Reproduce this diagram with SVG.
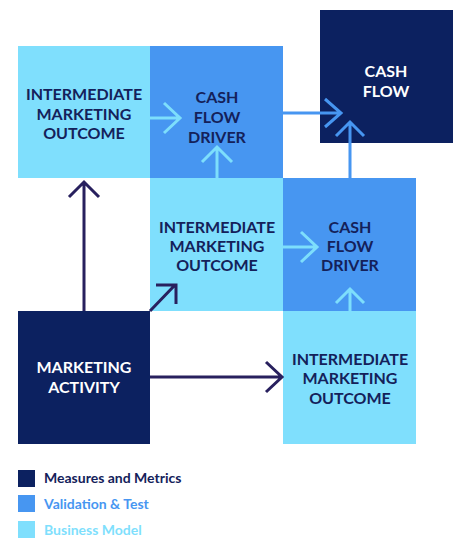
<svg xmlns="http://www.w3.org/2000/svg" width="454" height="538" viewBox="0 0 454 538">
<style>
.t{font-family:Lato,"Open Sans","DejaVu Sans",sans-serif;font-weight:700;font-size:16px;text-anchor:middle}
.dk{fill:#14215A}
.wh{fill:#ffffff}
.lg{font-family:Lato,"Open Sans","DejaVu Sans",sans-serif;font-weight:700;font-size:14px}
.la{fill:none;stroke:#7DDEFC;stroke-width:3}
.ma{fill:none;stroke:#4796F1;stroke-width:3}
.da{fill:none;stroke:#28205E;stroke-width:3}
</style>
<rect width="454" height="538" fill="#ffffff"/>
<g id="imo1"><rect x="18" y="46" width="132" height="132" fill="#7FDFFD"/>
<text class="t dk" x="84" y="100">INTERMEDIATE</text><text class="t dk" x="84" y="120">MARKETING</text><text class="t dk" x="84" y="139">OUTCOME</text></g>
<g id="cfd1"><rect x="150" y="46" width="133" height="132" fill="#4796F1"/>
<text class="t dk" x="217" y="103">CASH</text><text class="t dk" x="217" y="123">FLOW</text><text class="t dk" x="217" y="143">DRIVER</text></g>
<g id="cf"><rect x="320" y="10" width="133" height="133" fill="#0C2160"/>
<text class="t wh" x="386" y="77">CASH</text><text class="t wh" x="386" y="97">FLOW</text></g>
<g id="imo2"><rect x="150" y="178" width="133" height="133" fill="#7FDFFD"/>
<text class="t dk" x="217" y="233">INTERMEDIATE</text><text class="t dk" x="217" y="252">MARKETING</text><text class="t dk" x="217" y="271">OUTCOME</text></g>
<g id="cfd2"><rect x="283" y="178" width="133" height="133" fill="#4796F1"/>
<text class="t dk" x="350" y="233">CASH</text><text class="t dk" x="350" y="252">FLOW</text><text class="t dk" x="350" y="271">DRIVER</text></g>
<g id="ma"><rect x="18" y="311" width="132" height="133" fill="#0C2160"/>
<text class="t wh" x="84" y="373">MARKETING</text><text class="t wh" x="84" y="393">ACTIVITY</text></g>
<g id="imo3"><rect x="283" y="311" width="133" height="133" fill="#7FDFFD"/>
<text class="t dk" x="350" y="365">INTERMEDIATE</text><text class="t dk" x="350" y="384">MARKETING</text><text class="t dk" x="350" y="404">OUTCOME</text></g>
<g id="connectors">
<path class="la" d="M150 118H180M164 103L180 118L164 133"/>
<path class="la" d="M217 178V147M202 162L217 147L232 162"/>
<path class="ma" d="M283 113H341M325 99L341 113L325 127"/>
<path class="ma" d="M350 178V122M336 136L350 122L364 136"/>
<path class="la" d="M283 247H317M301 232L317 247L301 262"/>
<path class="la" d="M350 311V289M336 303L350 289L364 303"/>
<path class="da" d="M84 311V182M69 197L84 182L99 197"/>
<path class="da" d="M150 311L175 285M156 285H176V304"/>
<path class="da" d="M150 377H282M266 362L282 377L266 392"/>
</g>
<g id="legend">
<rect x="18" y="470" width="17" height="17" fill="#0C2160"/>
<text class="lg" x="44" y="483" fill="#14215A">Measures and Metrics</text>
<rect x="18" y="495" width="17" height="17" fill="#4796F1"/>
<text class="lg" x="44" y="509" fill="#4796F1">Validation &amp; Test</text>
<rect x="18" y="521" width="17" height="17" fill="#7FDFFD"/>
<text class="lg" x="44" y="535" fill="#7FDFFD">Business Model</text>
</g>
</svg>
